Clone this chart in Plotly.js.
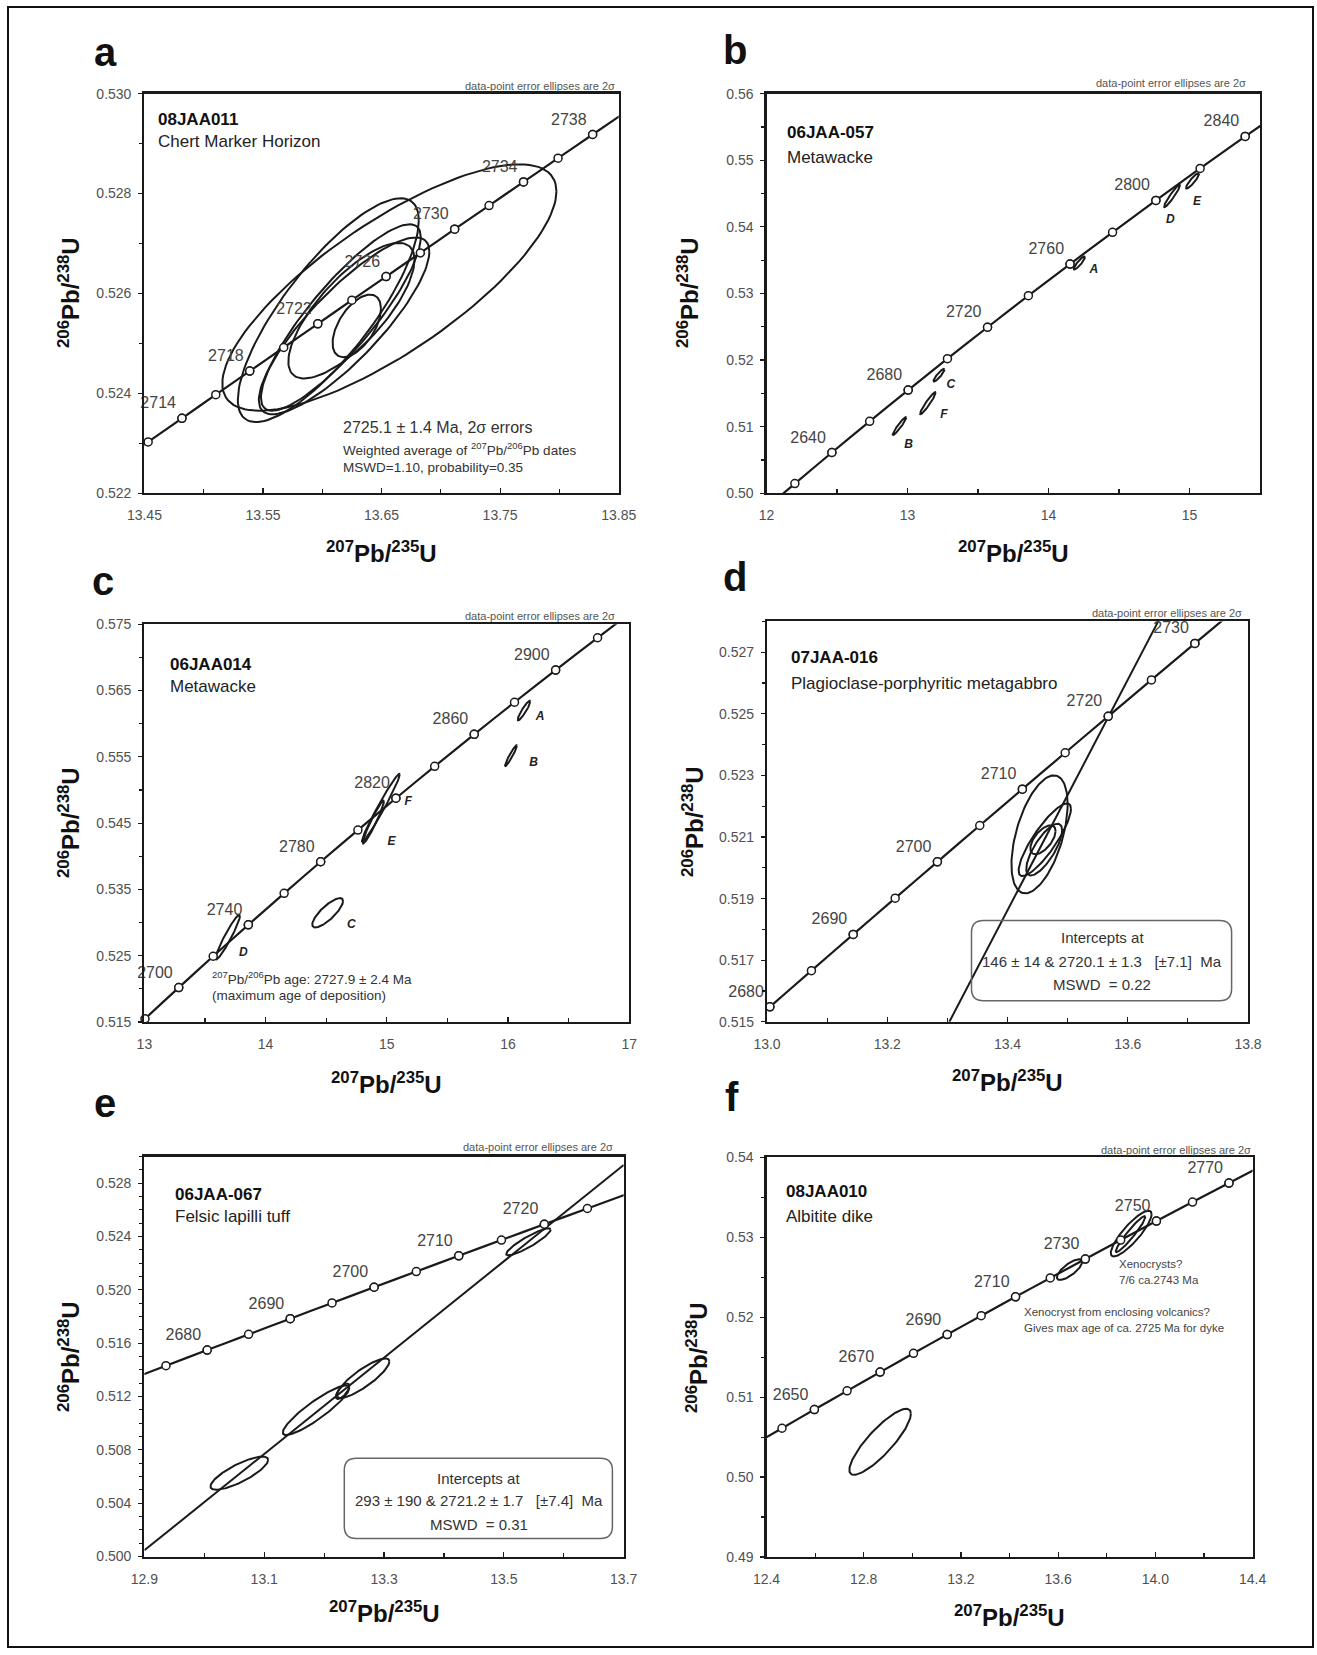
<!DOCTYPE html>
<html><head><meta charset="utf-8">
<script src="https://cdn.plot.ly/plotly-3.0.1.min.js"></script>
<style>html,body{margin:0;padding:0;background:#fff}#chart{width:1317px;height:1655px}</style>
</head><body><div id="chart"></div>
<script>
// ================= DATA =================
// Concordia age markers (Ma) with 207Pb/235U and 206Pb/238U ratios
const agesA = [2708,2710,2712,2714,2716,2718,2720,2722,2724,2726,2728,2730,2732,2734,2736,2738,2740];
const pb75A = [13.39634,13.42472,13.45316,13.48166,13.51021,13.53882,13.56749,13.59621,13.62498,13.65382,13.68271,13.71166,13.74066,13.76973,13.79885,13.82802,13.85726];
const pb68A = [0.522082,0.522554,0.523026,0.523499,0.523972,0.524444,0.524917,0.525391,0.525864,0.526337,0.526811,0.527285,0.527758,0.528232,0.528707,0.529181,0.529655];
const labelAgesA = [2714,2718,2722,2726,2730,2734,2738];

const agesB = [2600,2620,2640,2660,2680,2700,2720,2740,2760,2780,2800,2820,2840,2860];
const pb75B = [11.94371,12.20119,12.46379,12.73161,13.00477,13.28336,13.56749,13.85727,14.15281,14.45423,14.76165,15.07519,15.39496,15.72110];
const pb68B = [0.496794,0.501445,0.506110,0.510790,0.515485,0.520194,0.524918,0.529656,0.534409,0.539177,0.543960,0.548757,0.553570,0.558397];
const labelAgesB = [2640,2680,2720,2760,2800,2840];

const agesC = [2660,2680,2700,2720,2740,2760,2780,2800,2820,2840,2860,2880,2900,2920,2940];
const pb75C = [12.73161,13.00477,13.28336,13.56749,13.85727,14.15281,14.45423,14.76165,15.07519,15.39496,15.72110,16.05372,16.39296,16.73894,17.09181];
const pb68C = [0.510790,0.515485,0.520194,0.524918,0.529656,0.534409,0.539177,0.543960,0.548757,0.553570,0.558397,0.563240,0.568097,0.572970,0.577858];
const labelAgesC = [2700,2740,2780,2820,2860,2900];

const agesD = [2675,2680,2685,2690,2695,2700,2705,2710,2715,2720,2725,2730,2735];
const pb75D = [12.93597,13.00477,13.07390,13.14338,13.21319,13.28336,13.35386,13.42472,13.49593,13.56749,13.63940,13.71166,13.78429];
const pb68D = [0.514310,0.515485,0.516660,0.517837,0.519015,0.520194,0.521373,0.522554,0.523735,0.524918,0.526101,0.527285,0.528470];
const labelAgesD = [2680,2690,2700,2710,2720,2730];

const agesE = [2670,2675,2680,2685,2690,2695,2700,2705,2710,2715,2720,2725,2730];
const pb75E = [12.86752,12.93597,13.00477,13.07390,13.14338,13.21319,13.28336,13.35386,13.42472,13.49593,13.56749,13.63940,13.71166];
const pb68E = [0.513135,0.514310,0.515485,0.516660,0.517837,0.519015,0.520194,0.521373,0.522554,0.523735,0.524918,0.526101,0.527285];
const labelAgesE = [2680,2690,2700,2710,2720];

const agesF = [2630,2640,2650,2660,2670,2680,2690,2700,2710,2720,2730,2740,2750,2760,2770,2780];
const pb75F = [12.33184,12.46379,12.59705,12.73161,12.86752,13.00477,13.14338,13.28336,13.42472,13.56749,13.71166,13.85727,14.00431,14.15281,14.30278,14.45423];
const pb68F = [0.503776,0.506110,0.508448,0.510790,0.513135,0.515485,0.517837,0.520194,0.522554,0.524918,0.527285,0.529656,0.532031,0.534409,0.536791,0.539177];
const labelAgesF = [2650,2670,2690,2710,2730,2750,2770];

// Discordia lines (end points of the regression line within the plot)
const discD_x = [13.30329, 13.65066];
const discD_y = [0.515, 0.528];
const discE_x = [12.9, 13.7];
const discE_y = [0.500464, 0.529366];

// Error ellipses: 207/235 value, 2s, 206/238 value, 2s, error correlation
const ellA_x   = [13.6566, 13.6051, 13.6157, 13.6184, 13.6246, 13.6291];
const ellA_sx  = [0.1409, 0.0763, 0.0674, 0.0719, 0.0532, 0.0204];
const ellA_y   = [0.526118, 0.525664, 0.525518, 0.525350, 0.525654, 0.525350];
const ellA_sy  = [0.002467, 0.002241, 0.001866, 0.001770, 0.001358, 0.000626];
const ellA_rho = [0.78, 0.80, 0.86, 0.84, 0.75, 0.55];

const ellB_name = ['A','B','C','D','E','F'];
const ellB_x   = [14.2185, 12.943, 13.2234, 14.8764, 15.0212, 13.1443];
const ellB_sx  = [0.040, 0.048, 0.0388, 0.0567, 0.0462, 0.0552];
const ellB_y   = [0.53456, 0.51008, 0.51772, 0.54464, 0.54689, 0.51351];
const ellB_sy  = [0.00099, 0.00134, 0.00094, 0.00169, 0.00115, 0.00166];
const ellB_rho = [0.90, 0.95, 0.90, 0.95, 0.90, 0.95];
const ellB_lx  = [14.321, 13.0085, 13.307, 14.864, 15.0525, 13.259];
const ellB_ly  = [0.53346, 0.50718, 0.51625, 0.54096, 0.54375, 0.51174];

const ellC_name = ['A','B','F','E','C','D'];
const ellC_x   = [16.132, 16.0245, 14.951, 14.889, 14.512, 13.6875];
const ellC_sx  = [0.052, 0.0486, 0.156, 0.087, 0.127, 0.1005];
const ellC_y   = [0.56199, 0.55518, 0.54732, 0.54516, 0.53148, 0.52780];
const ellC_sy  = [0.00148, 0.00156, 0.00512, 0.00323, 0.00221, 0.00337];
const ellC_rho = [0.92, 0.95, 0.98, 0.96, 0.80, 0.95];
const ellC_lx  = [16.264, 16.212, 15.177, 15.038, 14.708, 13.816];
const ellC_ly  = [0.56094, 0.55400, 0.54812, 0.54209, 0.52970, 0.52540];

const ellD_x   = [13.4533, 13.462, 13.461, 13.459];
const ellD_sx  = [0.0467, 0.0435, 0.0298, 0.021];
const ellD_y   = [0.521085, 0.52091, 0.52059, 0.52091];
const ellD_sy  = [0.001915, 0.00118, 0.00084, 0.00047];
const ellD_rho = [0.51, 0.85, 0.75, 0.60];

const ellE_x   = [13.541, 13.265, 13.1865, 13.2308, 13.0584];
const ellE_sx  = [0.037, 0.0439, 0.0555, 0.0112, 0.0481];
const ellE_y   = [0.52360, 0.51337, 0.51097, 0.51239, 0.50625];
const ellE_sy  = [0.00101, 0.00148, 0.00186, 0.00058, 0.00124];
const ellE_rho = [0.90, 0.85, 0.90, 0.70, 0.80];

const ellF_x   = [12.8675, 13.6468, 13.9005, 13.8978];
const ellF_sx  = [0.1265, 0.052, 0.084, 0.0606];
const ellF_y   = [0.50441, 0.52596, 0.53047, 0.53040];
const ellF_sy  = [0.00413, 0.00129, 0.00286, 0.00225];
const ellF_rho = [0.85, 0.75, 0.85, 0.95];

// Tick values
const xTicksA = [13.45,13.55,13.65,13.75,13.85];
const yTicksA = [0.522,0.524,0.526,0.528,0.530];
const xTicksB = [12,13,14,15];
const yTicksB = [0.50,0.51,0.52,0.53,0.54,0.55,0.56];
const xTicksC = [13,14,15,16,17];
const yTicksC = [0.515,0.525,0.535,0.545,0.555,0.565,0.575];
const xTicksD = [13.0,13.2,13.4,13.6,13.8];
const yTicksD = [0.515,0.517,0.519,0.521,0.523,0.525,0.527];
const xTicksE = [12.9,13.1,13.3,13.5,13.7];
const yTicksE = [0.500,0.504,0.508,0.512,0.516,0.520,0.524,0.528];
const xTicksF = [12.4,12.8,13.2,13.6,14.0,14.4];
const yTicksF = [0.49,0.50,0.51,0.52,0.53,0.54];

// ================= DRAWING =================
const W = 1317, H = 1655;
const FONT = '"Liberation Sans", Arial, Helvetica, sans-serif';
const INK = '#1a1a1a';

function ellipsePts(cx, sx, cy, sy, rho) {
  const xs = [], ys = [], k = Math.sqrt(1 - rho * rho), n = 120;
  for (let i = 0; i <= n; i++) {
    const t = 2 * Math.PI * i / n;
    xs.push(cx + sx * Math.cos(t));
    ys.push(cy + sy * (rho * Math.cos(t) + k * Math.sin(t)));
  }
  return {xs, ys};
}

const panels = [
  {box:[144.4,93.6,618.7,493.2], xr:[13.45,13.85], yr:[0.522,0.530], xt:xTicksA, yt:yTicksA, xf:'.2f', yf:'.3f', xm:[13.45,0.05], ym:[0.522,0.001],
   ages:agesA, cx:pb75A, cy:pb68A, lab:labelAgesA, ell:[ellA_x,ellA_sx,ellA_y,ellA_sy,ellA_rho]},
  {box:[766.5,93.6,1260,493.2], xr:[12,15.5], yr:[0.50,0.56], xt:xTicksB, yt:yTicksB, xf:'d', yf:'.2f', xm:[12,0.5], ym:[0.50,0.005],
   ages:agesB, cx:pb75B, cy:pb68B, lab:labelAgesB, ell:[ellB_x,ellB_sx,ellB_y,ellB_sy,ellB_rho], names:[ellB_name,ellB_lx,ellB_ly]},
  {box:[144.4,624.3,629.2,1022], xr:[13,17], yr:[0.515,0.575], xt:xTicksC, yt:yTicksC, xf:'d', yf:'.3f', xm:[13,0.5], ym:[0.515,0.005],
   ages:agesC, cx:pb75C, cy:pb68C, lab:labelAgesC, ell:[ellC_x,ellC_sx,ellC_y,ellC_sy,ellC_rho], names:[ellC_name,ellC_lx,ellC_ly]},
  {box:[767,621.4,1248,1021.8], xr:[13.0,13.8], yr:[0.515,0.528], xt:xTicksD, yt:yTicksD, xf:'.1f', yf:'.3f', xm:[13.0,0.1], ym:[0.515,0.001],
   ages:agesD, cx:pb75D, cy:pb68D, lab:labelAgesD, ell:[ellD_x,ellD_sx,ellD_y,ellD_sy,ellD_rho], disc:[discD_x,discD_y]},
  {box:[144.4,1156.5,623.7,1556.5], xr:[12.9,13.7], yr:[0.500,0.530], xt:xTicksE, yt:yTicksE, xf:'.1f', yf:'.3f', xm:[12.9,0.1], ym:[0.500,0.001],
   ages:agesE, cx:pb75E, cy:pb68E, lab:labelAgesE, ell:[ellE_x,ellE_sx,ellE_y,ellE_sy,ellE_rho], disc:[discE_x,discE_y]},
  {box:[766.5,1157.4,1252.6,1557], xr:[12.4,14.4], yr:[0.49,0.54], xt:xTicksF, yt:yTicksF, xf:'.1f', yf:'.2f', xm:[12.4,0.2], ym:[0.49,0.005],
   ages:agesF, cx:pb75F, cy:pb68F, lab:labelAgesF, ell:[ellF_x,ellF_sx,ellF_y,ellF_sy,ellF_rho]}
];

const traces = [];
const layout = {
  width: W, height: H, margin: {l:0, r:0, t:0, b:0},
  paper_bgcolor: '#fff', plot_bgcolor: '#fff', showlegend: false,
  font: {family: FONT, color: INK},
  annotations: [], shapes: []
};

panels.forEach((p, i) => {
  const sfx = i === 0 ? '' : String(i + 1);
  const xa = 'x' + sfx, ya = 'y' + sfx;
  const [l, t, r, b] = p.box;
  const padx = (p.xr[1] - p.xr[0]) * 1e-6, pady = (p.yr[1] - p.yr[0]) * 1e-6;
  layout['xaxis' + sfx] = {
    domain: [l / W, r / W], range: [p.xr[0] - padx, p.xr[1] + padx], anchor: ya,
    tickmode: 'array', tickvals: p.xt, tickformat: p.xf,
    ticks: 'inside', ticklen: 5, tickwidth: 1.2, tickcolor: INK,
    showline: true, mirror: true, linecolor: INK, linewidth: 2.2,
    showgrid: false, zeroline: false, ticklabelstandoff: 8,
    tickfont: {family: FONT, size: 14, color: '#505050'},
    minor: {tickmode: 'linear', tick0: p.xm[0], dtick: p.xm[1], ticks: 'inside', ticklen: 4, tickcolor: INK, showgrid: false},
    fixedrange: true
  };
  layout['yaxis' + sfx] = {
    domain: [1 - b / H, 1 - t / H], range: [p.yr[0] - pady, p.yr[1] + pady], anchor: xa,
    tickmode: 'array', tickvals: p.yt, tickformat: p.yf,
    ticks: 'outside', ticklen: 4, tickwidth: 1.2, tickcolor: INK,
    showline: true, mirror: true, linecolor: INK, linewidth: 2.2,
    showgrid: false, zeroline: false, ticklabelstandoff: 4,
    tickfont: {family: FONT, size: 14, color: '#505050'},
    minor: {tickmode: 'linear', tick0: p.ym[0], dtick: p.ym[1], ticks: 'outside', ticklen: 3, tickcolor: INK, showgrid: false},
    fixedrange: true
  };

  // ellipses
  const [ex, esx, ey, esy, er] = p.ell;
  ex.forEach((_, k) => {
    const e = ellipsePts(ex[k], esx[k], ey[k], esy[k], er[k]);
    traces.push({type: 'scatter', mode: 'lines', x: e.xs, y: e.ys, xaxis: xa, yaxis: ya,
      line: {color: INK, width: 2}, hoverinfo: 'skip'});
  });
  // discordia
  if (p.disc) {
    traces.push({type: 'scatter', mode: 'lines', x: p.disc[0], y: p.disc[1], xaxis: xa, yaxis: ya,
      line: {color: INK, width: 2}, hoverinfo: 'skip'});
  }
  // concordia curve
  traces.push({type: 'scatter', mode: 'lines', x: p.cx, y: p.cy, xaxis: xa, yaxis: ya,
    line: {color: INK, width: 2.2, shape: 'spline', smoothing: 0.6}, hoverinfo: 'skip'});
  // markers within plot range
  const mx = [], my = [], lx = [], ly = [], lt = [];
  p.ages.forEach((a, k) => {
    if (p.cx[k] >= p.xr[0] - 1e-9 && p.cx[k] <= p.xr[1] && p.cy[k] >= p.yr[0] - 1e-9 && p.cy[k] <= p.yr[1]) {
      mx.push(p.cx[k]); my.push(p.cy[k]);
      if (p.lab.includes(a)) { lx.push(p.cx[k]); ly.push(p.cy[k]); lt.push(String(a)); }
    }
  });
  const mk = {size: 8, color: '#fff', line: {color: INK, width: 1.5}};
  traces.push({type: 'scatter', mode: 'markers', x: mx, y: my, xaxis: xa, yaxis: ya,
    cliponaxis: false, marker: mk, hoverinfo: 'skip'});
  // age labels on labelled markers
  traces.push({type: 'scatter', mode: 'markers+text', x: lx, y: ly, text: lt, xaxis: xa, yaxis: ya,
    textposition: 'top left', cliponaxis: false,
    textfont: {family: FONT, size: 16, color: '#444'},
    marker: mk, hoverinfo: 'skip'});
  // ellipse names
  if (p.names) {
    traces.push({type: 'scatter', mode: 'text', x: p.names[1], y: p.names[2],
      text: p.names[0].map(s => '<b><i>' + s + '</i></b>'), xaxis: xa, yaxis: ya, cliponaxis: false,
      textposition: 'middle center', textfont: {family: FONT, size: 12, color: '#222'}, hoverinfo: 'skip'});
  }
});

// ---------- text annotations (pixel positions converted to paper) ----------
function ann(x, y, text, opts) {
  layout.annotations.push(Object.assign({
    xref: 'paper', yref: 'paper', x: x / W, y: 1 - y / H, text: text, showarrow: false,
    xanchor: 'left', yanchor: 'middle', font: {family: FONT, size: 14, color: INK}
  }, opts || {}));
}
// panel letters
[['a',105,52],['b',735,50],['c',103,581],['d',735,577],['e',105,1103],['f',732,1097]].forEach(([s,x,y]) =>
  ann(x, y, '<b>' + s + '</b>', {xanchor: 'center', font: {family: FONT, size: 40, color: '#111'}}));

// axis titles
const ytitle = '<b><sup>206</sup>Pb/<sup>238</sup>U</b>';
const xtitle = '<b><sup>207</sup>Pb/<sup>235</sup>U</b>';
[[69,293],[688,293],[69,823],[693,822],[69,1357],[697,1357]].forEach(([x,y]) =>
  ann(x, y, ytitle, {xanchor: 'center', textangle: -90, font: {family: FONT, size: 24, color: '#111'}}));
[[381.5,552],[1013,552],[386.8,1083],[1007,1081],[384,1612],[1009.5,1616]].forEach(([x,y]) =>
  ann(x, y, xtitle, {xanchor: 'center', font: {family: FONT, size: 24, color: '#111'}}));

// "data-point error ellipses" notes
const noteEl = 'data-point error ellipses are 2σ';
[[616.6,85.7],[1247.6,83],[616.6,616],[1244,613],[614.5,1146.6],[1252.6,1149.5]].forEach(([x,y]) =>
  ann(x, y, noteEl, {xanchor: 'right', font: {family: FONT, size: 11, color: '#555'}}));

// sample names and rock types
const bold17 = {font: {family: FONT, size: 17, color: '#111'}};
const reg17 = {font: {family: FONT, size: 17, color: '#222'}};
ann(155.7, 119.6, '<b>08JAA011</b>', bold17);  ann(155.7, 142, 'Chert Marker Horizon', reg17);
ann(784.6, 132, '<b>06JAA-057</b>', bold17);   ann(784.6, 157, 'Metawacke', reg17);
ann(167.5, 664, '<b>06JAA014</b>', bold17);    ann(167.5, 686, 'Metawacke', reg17);
ann(788.8, 657, '<b>07JAA-016</b>', bold17);   ann(788.8, 683, 'Plagioclase-porphyritic metagabbro', reg17);
ann(173.4, 1194.5, '<b>06JAA-067</b>', bold17); ann(173.4, 1216, 'Felsic lapilli tuff', reg17);
ann(784, 1191, '<b>08JAA010</b>', bold17);     ann(784, 1216, 'Albitite dike', reg17);

// panel a notes
ann(341, 428, '2725.1 ± 1.4 Ma, 2σ errors', {font: {family: FONT, size: 16, color: '#333'}});
ann(341, 449, 'Weighted average of <sup>207</sup>Pb/<sup>206</sup>Pb dates', {font: {family: FONT, size: 13.5, color: '#333'}});
ann(341, 467, 'MSWD=1.10, probability=0.35', {font: {family: FONT, size: 13.5, color: '#333'}});
// panel c notes
ann(210, 978, '<sup>207</sup>Pb/<sup>206</sup>Pb age: 2727.9 ± 2.4 Ma', {font: {family: FONT, size: 13.5, color: '#333'}});
ann(210, 995, '(maximum age of deposition)', {font: {family: FONT, size: 13.5, color: '#333'}});
// panel d intercept box
const boxFont = {family: FONT, size: 15, color: '#333'};
ann(1102, 937.5, 'Intercepts at', {xanchor: 'center', font: boxFont});
ann(1102, 961.4, '146 ± 14 &amp; 2720.1 ± 1.3   [±7.1]  Ma', {xanchor: 'center', font: boxFont});
ann(1102, 984, 'MSWD  = 0.22', {xanchor: 'center', font: boxFont});
// panel e intercept box
ann(478.5, 1478.5, 'Intercepts at', {xanchor: 'center', font: boxFont});
ann(478.5, 1500.8, '293 ± 190 &amp; 2721.2 ± 1.7   [±7.4]  Ma', {xanchor: 'center', font: boxFont});
ann(478.5, 1524, 'MSWD  = 0.31', {xanchor: 'center', font: boxFont});
// panel f notes
const smallF = {font: {family: FONT, size: 11.5, color: '#444'}};
ann(1116.7, 1263.7, 'Xenocrysts?', smallF);
ann(1116.7, 1280, '7/6 ca.2743 Ma', smallF);
ann(1022.4, 1312.3, 'Xenocryst from enclosing volcanics?', smallF);
ann(1022.4, 1328, 'Gives max age of ca. 2725 Ma for dyke', smallF);

// ---------- shapes ----------
function rr(x0, y0, x1, y1, r) {
  const X = v => (v / W).toFixed(6), Y = v => (1 - v / H).toFixed(6);
  return 'M' + X(x0 + r) + ',' + Y(y0) + ' L' + X(x1 - r) + ',' + Y(y0) +
    ' Q' + X(x1) + ',' + Y(y0) + ' ' + X(x1) + ',' + Y(y0 + r) +
    ' L' + X(x1) + ',' + Y(y1 - r) + ' Q' + X(x1) + ',' + Y(y1) + ' ' + X(x1 - r) + ',' + Y(y1) +
    ' L' + X(x0 + r) + ',' + Y(y1) + ' Q' + X(x0) + ',' + Y(y1) + ' ' + X(x0) + ',' + Y(y1 - r) +
    ' L' + X(x0) + ',' + Y(y0 + r) + ' Q' + X(x0) + ',' + Y(y0) + ' ' + X(x0 + r) + ',' + Y(y0) + ' Z';
}
layout.shapes.push({type: 'path', xref: 'paper', yref: 'paper', path: rr(971.5, 920.4, 1231.6, 1000.7, 12), line: {color: '#666', width: 1.5}});
layout.shapes.push({type: 'path', xref: 'paper', yref: 'paper', path: rr(344.3, 1458.3, 612.4, 1538.6, 12), line: {color: '#666', width: 1.5}});
// outer frame
layout.shapes.push({type: 'rect', xref: 'paper', yref: 'paper', x0: 8 / W, x1: 1313 / W, y0: 1 - 1647 / H, y1: 1 - 7 / H, line: {color: '#111', width: 2}});

Plotly.newPlot('chart', traces, layout, {displayModeBar: false, staticPlot: true});
</script>
</body></html>
